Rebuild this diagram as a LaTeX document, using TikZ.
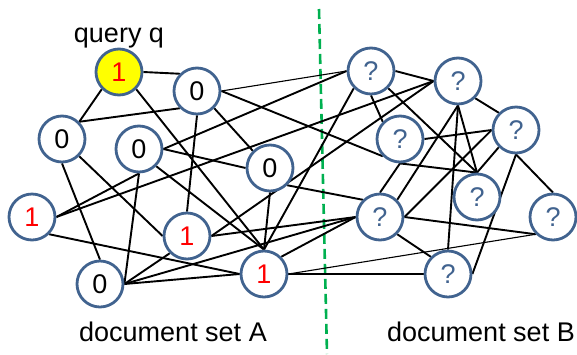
\documentclass[tikz,border=0pt]{standalone}
\usepackage{fontspec}
\setmainfont{Liberation Sans}
\usetikzlibrary{backgrounds}
\definecolor{ringblue}{HTML}{41638F}
\definecolor{qyellow}{HTML}{FFFF00}
\definecolor{divgreen}{HTML}{00B050}
\begin{document}
\begin{tikzpicture}[x=1pt,y=-1pt,
  doc/.style={circle,draw=ringblue,line width=2.8pt,fill=white,minimum size=46pt,inner sep=0pt,
    font=\fontsize{27}{30}\selectfont},
  zero/.style={doc,text=black},
  one/.style={doc,text=red},
  unk/.style={doc,text=ringblue},
  link/.style={line width=1.9pt,black},
  thinlink/.style={line width=1.1pt,black},
  lbl/.style={font=\fontsize{27}{30}\selectfont,anchor=base,inner sep=0pt}]
\useasboundingbox (0,0) rectangle (577,354);
% nodes
\node[one,fill=qyellow] (q) at (119,72) {1};
\node[zero] (a1) at (197,91) {0};
\node[zero] (a2) at (62,139) {0};
\node[zero] (a3) at (139,149) {0};
\node[zero] (a4) at (270,168) {0};
\node[one] (a5) at (32,217) {1};
\node[one] (a6) at (187,236) {1};
\node[zero] (a7) at (100,284) {0};
\node[one] (a8) at (264,274) {1};
\node[unk] (b1) at (371,71) {?};
\node[unk] (b2) at (458,81) {?};
\node[unk] (b3) at (400,139) {?};
\node[unk] (b4) at (516,130) {?};
\node[unk] (b5) at (477,197) {?};
\node[unk] (b6) at (380,217) {?};
\node[unk] (b7) at (553,217) {?};
\node[unk] (b8) at (448,274) {?};
% labels
\node[lbl] (lq) at (119,42) {query q};
\node[lbl] (la) at (173,341) {document set A};
\node[lbl] (lb) at (481,341) {document set B};
% divider
\coordinate (dtop) at (319,9);
\coordinate (dbot) at (327,354);
\begin{scope}[on background layer]
\draw[divgreen,line width=2.6pt,dash pattern=on 10pt off 5pt] (dtop) -- (dbot);
\draw[link] (q.east) -- (a1.north west);
\draw[link] (q.south west) -- (a2.north east);
\draw[link] (q.south east) -- (a8.north);
\draw[thinlink] (a1.east) -- (b1.west);
\draw[link] (a1.east) -- (b3.south west);
\draw[link] (a1.south west) -- (a2.north east);
\draw[link] (a1.south) -- (a6.north);
\draw[link] (a1.south east) -- (a4.north west);
\draw[link] (a3.east) -- (b1.west);
\draw[link] (a3.east) -- (a4.west);
\draw[link] (a3.south east) -- (a8.north);
\draw[link] (a3.south) -- (a7.east);
\draw[link] (a3.south) -- (a5.east);
\draw[link] (a2.south) -- (a7.north);
\draw[link] (a2.south east) -- (a6.west);
\draw[link] (a5.east) -- (b2.west);
\draw[link] (a5.south east) -- (a8.west);
\draw[link] (a7.east) -- (a6.south west);
\draw[link] (a7.east) -- (a8.west);
\draw[link] (a7.east) -- (b6.west);
\draw[link] (a4.south) -- (a8.north);
\draw[link] (a4.south east) -- (b6.north west);
\draw[link] (a6.east) -- (b6.west);
\draw[link] (a6.east) -- (b2.west);
\draw[link] (a8.north east) -- (b6.west);
\draw[link] (a8.north) -- (b1.south west);
\draw[link] (a8.east) -- (b8.west);
\draw[thinlink] (a8.east) -- (b7.south west);
\draw[link] (b1.east) -- (b2.west);
\draw[link] (b1.south) -- (b3.north west);
\draw[link] (b1.south east) -- (b5.north);
\draw[link] (b2.south east) -- (b4.north west);
\draw[link] (b2.south) -- (b5.north);
\draw[link] (b2.south) -- (b6.north east);
\draw[link] (b2.south) -- (b8.north);
\draw[link] (b3.east) -- (b4.west);
\draw[link] (b3.south) -- (b5.north);
\draw[link] (b3.south) -- (b6.north);
\draw[link] (b4.west) -- (b6.east);
\draw[link] (b4.south west) -- (b5.north);
\draw[link] (b4.south) -- (b8.east);
\draw[link] (b4.south) -- (b7.north);
\draw[link] (b6.east) -- (b7.south west);
\draw[link] (b6.south east) -- (b8.north west);
\end{scope}
\end{tikzpicture}
\end{document}
